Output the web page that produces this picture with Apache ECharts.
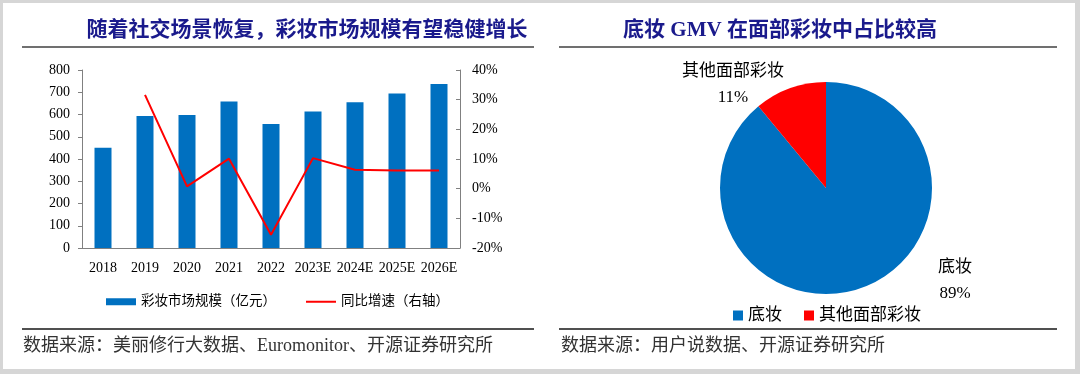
<!DOCTYPE html>
<html><head><meta charset="utf-8">
<script src="https://cdn.jsdelivr.net/npm/echarts@6/dist/echarts.min.js"></script>
<style>html,body{margin:0;padding:0;background:#fff}#c{width:1080px;height:374px}</style>
</head><body><div id="c"></div>
<script>
// ---- data ----
const categories = ['2018','2019','2020','2021','2022','2023E','2024E','2025E','2026E'];
const marketSize = [451, 593, 598, 658, 557, 614, 655, 694, 737];
const yoyGrowth = [null, 31.6, 0.8, 10.1, -15.5, 10.3, 6.4, 6.1, 6.1];
const barName = '彩妆市场规模（亿元）';
const lineName = '同比增速（右轴）';
const pieNames = ['底妆', '其他面部彩妆'];
const pieValues = [89, 11];
const leftTitle = '随着社交场景恢复，彩妆市场规模有望稳健增长';
const rightTitle = '底妆 GMV 在面部彩妆中占比较高';
const leftSource = '数据来源：美丽修行大数据、Euromonitor、开源证券研究所';
const rightSource = '数据来源：用户说数据、开源证券研究所';

// ---- styles ----
const FF = '"Liberation Serif","Noto Sans CJK SC"';
const BLUE = '#0070C0', RED = '#FF0000', AX = '#808080';
const pieCenter = [826, 188];
const pieLabelOffset = [[129, 93], [-93, -103]];

const chart = echarts.init(document.getElementById('c'));
chart.setOption({
  backgroundColor: '#fff',
  animation: false,
  textStyle: { fontFamily: FF },
  grid: { left: 82, top: 70, width: 378, height: 178 },
  xAxis: {
    type: 'category', data: categories,
    axisLine: { lineStyle: { color: AX } },
    axisTick: { inside: true, length: 4, lineStyle: { color: AX } },
    axisLabel: { color: '#000', fontSize: 14, fontFamily: FF, margin: 13, interval: 0 }
  },
  yAxis: [{
    type: 'value', min: 0, max: 800, interval: 100,
    axisLine: { show: true, lineStyle: { color: AX } },
    axisTick: { show: true, length: 4, lineStyle: { color: AX } },
    splitLine: { show: false },
    axisLabel: { color: '#000', fontSize: 14, fontFamily: FF, margin: 12 }
  }, {
    type: 'value', min: -20, max: 40, interval: 10, position: 'right',
    axisLine: { show: true, lineStyle: { color: AX } },
    axisTick: { show: true, inside: true, length: 4, lineStyle: { color: AX } },
    splitLine: { show: false },
    axisLabel: { color: '#000', fontSize: 14, fontFamily: FF, margin: 12, formatter: '{value}%' }
  }],
  legend: [{
    data: [{ name: barName, icon: 'rect' }, { name: lineName, icon: 'path://M0,0h30v2h-30z' }],
    left: 106, top: 295, padding: 0, itemWidth: 30, itemHeight: 7, itemGap: 30, itemTextGap: 4,
    textStyle: { fontSize: 13.5, color: '#000', fontFamily: FF }
  }, {
    data: pieNames, icon: 'rect',
    left: 733, top: 307, padding: 0, itemWidth: 10, itemHeight: 10, itemGap: 22, itemTextGap: 4,
    textStyle: { fontSize: 17, color: '#000', fontFamily: FF }
  }],
  series: [{
    name: barName, type: 'bar', data: marketSize, barWidth: 17,
    itemStyle: { color: BLUE }
  }, {
    name: lineName, type: 'line', yAxisIndex: 1, data: yoyGrowth,
    symbol: 'none', lineStyle: { color: RED, width: 2 }, itemStyle: { color: RED }
  }, {
    type: 'pie', center: pieCenter, radius: 106, startAngle: 90, clockwise: true,
    color: [BLUE, RED],
    data: pieNames.map((n, i) => ({ name: n, value: pieValues[i] })),
    label: {
      show: true, position: 'outside', formatter: '{b}\n{c}%',
      fontSize: 17, lineHeight: 26, color: '#000', fontFamily: FF
    },
    labelLine: { show: false },
    labelLayout: function (p) {
      const o = pieLabelOffset[p.dataIndex];
      return { x: pieCenter[0] + o[0], y: pieCenter[1] + o[1], align: 'center', verticalAlign: 'middle' };
    },
    emphasis: { disabled: true }
  }],
  graphic: [
    { type: 'rect', shape: { x: 0, y: 0, width: 1080, height: 3 }, style: { fill: '#d6d6d6' }, silent: true },
    { type: 'rect', shape: { x: 0, y: 0, width: 3, height: 374 }, style: { fill: '#d6d6d6' }, silent: true },
    { type: 'rect', shape: { x: 1075, y: 0, width: 5, height: 374 }, style: { fill: '#d6d6d6' }, silent: true },
    { type: 'rect', shape: { x: 0, y: 369, width: 1080, height: 5 }, style: { fill: '#d6d6d6' }, silent: true },
    { type: 'line', shape: { x1: 22, y1: 47, x2: 534, y2: 47 }, style: { stroke: '#404040', lineWidth: 1.5 }, silent: true },
    { type: 'line', shape: { x1: 559, y1: 47, x2: 1057, y2: 47 }, style: { stroke: '#404040', lineWidth: 1.5 }, silent: true },
    { type: 'line', shape: { x1: 22, y1: 329, x2: 534, y2: 329 }, style: { stroke: '#505050', lineWidth: 2 }, silent: true },
    { type: 'line', shape: { x1: 559, y1: 329, x2: 1057, y2: 329 }, style: { stroke: '#505050', lineWidth: 2 }, silent: true },
    { type: 'text', x: 307, y: 31, silent: true,
      style: { text: leftTitle, font: 'bold 21px ' + FF, fill: '#1a1a8c', align: 'center', verticalAlign: 'middle' } },
    { type: 'text', x: 780, y: 31, silent: true,
      style: { text: rightTitle, font: 'bold 21px ' + FF, fill: '#1a1a8c', align: 'center', verticalAlign: 'middle' } },
    { type: 'text', x: 23, y: 346, silent: true,
      style: { text: leftSource, font: '18px ' + FF, fill: '#333', align: 'left', verticalAlign: 'middle' } },
    { type: 'text', x: 561, y: 346, silent: true,
      style: { text: rightSource, font: '18px ' + FF, fill: '#333', align: 'left', verticalAlign: 'middle' } }
  ]
});
</script></body></html>
